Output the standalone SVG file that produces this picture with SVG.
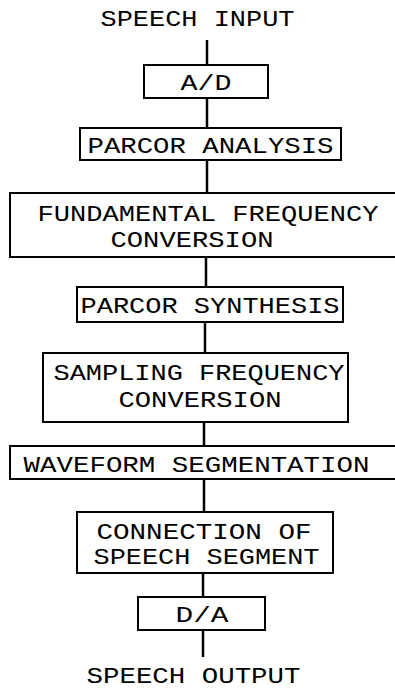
<svg xmlns="http://www.w3.org/2000/svg" width="395" height="689" viewBox="0 0 395 689">
<style>
.box{fill:#fff;stroke:#000;stroke-width:2}
.ln{stroke:#000;stroke-width:2.5;fill:none}
text{font-family:"Liberation Mono","Courier New",monospace;font-size:22px;fill:#000}
</style>
<rect width="395" height="689" fill="#fff"/>
<g id="connectors">
<line class="ln" x1="207" y1="40" x2="207" y2="65"/>
<line class="ln" x1="207" y1="98" x2="207" y2="128"/>
<line class="ln" x1="207" y1="160" x2="207" y2="193"/>
<line class="ln" x1="206" y1="257" x2="206" y2="287"/>
<line class="ln" x1="205" y1="322" x2="205" y2="353"/>
<line class="ln" x1="204" y1="422" x2="204" y2="446"/>
<line class="ln" x1="204" y1="479" x2="204" y2="512"/>
<line class="ln" x1="203" y1="573" x2="203" y2="597"/>
<line class="ln" x1="203" y1="630" x2="203" y2="657"/>
</g>
<g id="speech-input">
<text x="100.5" y="26" textLength="194" lengthAdjust="spacingAndGlyphs">SPEECH INPUT</text>
</g>
<g id="ad">
<rect class="box" x="144" y="65" width="124" height="33"/>
<text x="180.5" y="90" textLength="51" lengthAdjust="spacingAndGlyphs">A/D</text>
</g>
<g id="parcor-analysis">
<rect class="box" x="80" y="128" width="261" height="32"/>
<text x="87.5" y="153" textLength="246" lengthAdjust="spacingAndGlyphs">PARCOR ANALYSIS</text>
</g>
<g id="fundamental-frequency-conversion">
<rect class="box" x="10" y="193" width="388" height="64"/>
<text x="37.5" y="221" textLength="341" lengthAdjust="spacingAndGlyphs">FUNDAMENTAL FREQUENCY</text>
<text x="110.5" y="247" textLength="163" lengthAdjust="spacingAndGlyphs">CONVERSION</text>
</g>
<g id="parcor-synthesis">
<rect class="box" x="77" y="287" width="266" height="35"/>
<text x="80.5" y="313" textLength="259" lengthAdjust="spacingAndGlyphs">PARCOR SYNTHESIS</text>
</g>
<g id="sampling-frequency-conversion">
<rect class="box" x="43" y="353" width="305" height="69"/>
<text x="53.5" y="380" textLength="291" lengthAdjust="spacingAndGlyphs">SAMPLING FREQUENCY</text>
<text x="118.5" y="407" textLength="163" lengthAdjust="spacingAndGlyphs">CONVERSION</text>
</g>
<g id="waveform-segmentation">
<rect class="box" x="10" y="446" width="388" height="33"/>
<text x="23.5" y="472" textLength="346" lengthAdjust="spacingAndGlyphs">WAVEFORM SEGMENTATION</text>
</g>
<g id="connection-of-speech-segment">
<rect class="box" x="77" y="512" width="256" height="61"/>
<text x="96.5" y="539" textLength="215" lengthAdjust="spacingAndGlyphs">CONNECTION OF</text>
<text x="93.5" y="564" textLength="226" lengthAdjust="spacingAndGlyphs">SPEECH SEGMENT</text>
</g>
<g id="da">
<rect class="box" x="138" y="597" width="127" height="33"/>
<text x="175.5" y="622" textLength="53" lengthAdjust="spacingAndGlyphs">D/A</text>
</g>
<g id="speech-output">
<text x="86.5" y="683" textLength="214" lengthAdjust="spacingAndGlyphs">SPEECH OUTPUT</text>
</g>
</svg>
